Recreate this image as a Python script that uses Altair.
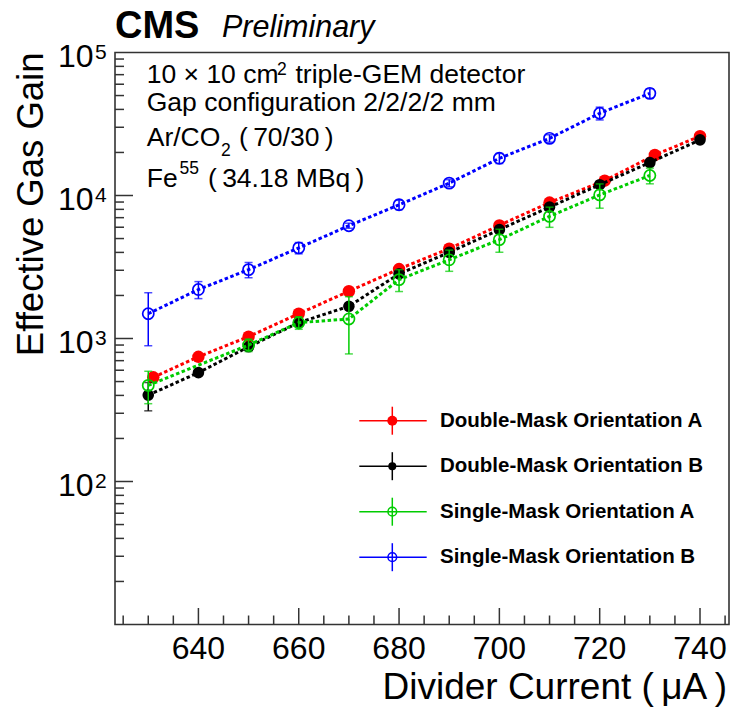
import altair as alt
import pandas as pd

FONT = "Liberation Sans"

# ---- gain measurements vs. divider current (uA) ----
dm_a_current = [631, 640, 650, 660, 670, 680, 690, 700, 710, 721, 731, 740]
dm_a_gain = [535, 745, 1030, 1490, 2140, 3060, 4250, 6180, 8930, 12700, 19200, 26000]
dm_a_err = [25, 30, 40, 55, 75, 100, 140, 200, 280, 400, 600, 800]

dm_b_current = [630, 640, 650, 660, 670, 680, 690, 700, 710, 720, 730, 740]
dm_b_gain = [402, 577, 875, 1290, 1680, 2830, 4000, 5770, 8300, 11900, 17000, 24500]
dm_b_err = [90, 25, 35, 50, 70, 100, 140, 200, 280, 400, 600, 800]

sm_a_current = [630, 650, 660, 670, 680, 690, 700, 710, 720, 730]
sm_a_gain = [470, 900, 1290, 1370, 2580, 3550, 4910, 7140, 10100, 13800]
sm_a_err = [120, 90, 130, 590, 450, 600, 900, 1150, 1950, 1730]

sm_b_current = [630, 640, 650, 660, 670, 680, 690, 700, 710, 720, 730]
sm_b_gain = [1490, 2200, 3030, 4300, 6150, 8610, 12200, 18200, 25100, 37600, 51800]
sm_b_err = [600, 300, 370, 390, 250, 640, 700, 1470, 1500, 3850, 4000]

series_names = [
    "Double-Mask Orientation A",
    "Double-Mask Orientation B",
    "Single-Mask Orientation A",
    "Single-Mask Orientation B",
]
series_colors = ["#ff0000", "#000000", "#00cc00", "#0000ff"]
series_filled = [True, True, False, False]
series_sizes = [155, 135, 125, 125]
legend_sizes = [100, 65, 75, 75]

# axis ticks and labels
x_major = [640, 660, 680, 700, 720, 740]
x_minor = [v for v in range(625, 750, 5) if v not in x_major]
y_label_values = [100, 1000, 10000, 100000]
y_label_exps = ["2", "3", "4", "5"]
y_major = [100, 1000, 10000]
y_minor = [k * 10 ** d for d in range(1, 5) for k in range(2, 10)]

W, H = 614, 572
x_scale = alt.Scale(domain=[623.37, 745.78], nice=False, zero=False)
y_scale = alt.Scale(type="log", domain=[10, 100000], nice=False)
AXIS_COLOR = "#333333"

one_row = pd.DataFrame({"_": [0]})


def text_at(text, x, y, size, weight="normal", style="normal", align="left",
            baseline="alphabetic", angle=0):
    return alt.Chart(one_row).mark_text(
        text=text, font=FONT, fontSize=size, fontWeight=weight, fontStyle=style,
        align=align, baseline=baseline, angle=angle, color="black",
    ).encode(x=alt.value(x), y=alt.value(y))


def series_layers(current, gain, err, color, filled, size):
    df = pd.DataFrame({
        "current": current,
        "gain": gain,
        "lo": [g - e for g, e in zip(gain, err)],
        "hi": [g + e for g, e in zip(gain, err)],
    })
    X = alt.X("current:Q", scale=x_scale, axis=None)
    base = alt.Chart(df)
    line = base.mark_line(color=color, strokeDash=[3.5, 2.5], strokeWidth=3).encode(
        x=X, y=alt.Y("gain:Q", scale=y_scale, axis=None))
    bars = base.mark_rule(color=color, strokeWidth=1.5).encode(
        x=X, y=alt.Y("lo:Q", scale=y_scale, axis=None), y2="hi:Q")
    cap_lo = base.mark_tick(color=color, orient="horizontal", size=8, thickness=1.5).encode(
        x=X, y=alt.Y("lo:Q", scale=y_scale, axis=None))
    cap_hi = base.mark_tick(color=color, orient="horizontal", size=8, thickness=1.5).encode(
        x=X, y=alt.Y("hi:Q", scale=y_scale, axis=None))
    pts = base.mark_point(shape="circle", filled=filled, color=color, size=size,
                          strokeWidth=1.7, opacity=1).encode(
        x=X, y=alt.Y("gain:Q", scale=y_scale, axis=None))
    return [line, bars, cap_lo, cap_hi, pts]


layers = []

# inward tick marks on the frame
layers.append(alt.Chart(pd.DataFrame({"v": y_major})).mark_rule(color=AXIS_COLOR, strokeWidth=1.5).encode(
    y=alt.Y("v:Q", scale=y_scale, axis=None), x=alt.value(0), x2=alt.value(18)))
layers.append(alt.Chart(pd.DataFrame({"v": y_minor})).mark_rule(color=AXIS_COLOR, strokeWidth=1.5).encode(
    y=alt.Y("v:Q", scale=y_scale, axis=None), x=alt.value(0), x2=alt.value(9)))
layers.append(alt.Chart(pd.DataFrame({"v": x_major})).mark_rule(color=AXIS_COLOR, strokeWidth=1.5).encode(
    x=alt.X("v:Q", scale=x_scale, axis=None), y=alt.value(H), y2=alt.value(H - 16.5)))
layers.append(alt.Chart(pd.DataFrame({"v": x_minor})).mark_rule(color=AXIS_COLOR, strokeWidth=1.5).encode(
    x=alt.X("v:Q", scale=x_scale, axis=None), y=alt.value(H), y2=alt.value(H - 9)))

# tick labels
layers.append(alt.Chart(pd.DataFrame({"v": x_major, "lab": [str(v) for v in x_major]})).mark_text(
    font=FONT, fontSize=32, align="center", baseline="alphabetic", color="black").encode(
    x=alt.X("v:Q", scale=x_scale, axis=None), y=alt.value(H + 34.5), text="lab:N"))
ylab = pd.DataFrame({"v": y_label_values, "base": ["10"] * len(y_label_values), "exp": y_label_exps})
layers.append(alt.Chart(ylab).mark_text(
    font=FONT, fontSize=32, align="right", baseline="alphabetic", color="black", dy=14.5).encode(
    y=alt.Y("v:Q", scale=y_scale, axis=None), x=alt.value(-21.5), text="base:N"))
layers.append(alt.Chart(ylab).mark_text(
    font=FONT, fontSize=21, align="left", baseline="alphabetic", color="black", dy=6).encode(
    y=alt.Y("v:Q", scale=y_scale, axis=None), x=alt.value(-20), text="exp:N"))

# data series
series_data = [
    (dm_a_current, dm_a_gain, dm_a_err),
    (dm_b_current, dm_b_gain, dm_b_err),
    (sm_a_current, sm_a_gain, sm_a_err),
    (sm_b_current, sm_b_gain, sm_b_err),
]
for (cur, g, e), col, fil, sz in zip(series_data, series_colors, series_filled, series_sizes):
    layers += series_layers(cur, g, e, col, fil, sz)

# legend
legend_y0, legend_step = 368.2, 45.5
for i, (name, col, fil, sz) in enumerate(zip(series_names, series_colors, series_filled, legend_sizes)):
    yy = legend_y0 + i * legend_step
    layers.append(alt.Chart(one_row).mark_rule(color=col, strokeWidth=1.5).encode(
        x=alt.value(244.3), x2=alt.value(311.7), y=alt.value(yy)))
    layers.append(alt.Chart(one_row).mark_rule(color=col, strokeWidth=1.5).encode(
        x=alt.value(277.3), y=alt.value(yy - 14), y2=alt.value(yy + 14)))
    layers.append(alt.Chart(one_row).mark_point(shape="circle", filled=fil, color=col, size=sz,
                                                strokeWidth=1.5, opacity=1).encode(
        x=alt.value(277.3), y=alt.value(yy)))
    layers.append(text_at(name, 325, yy, 20.5, weight="bold", baseline="middle"))

# header and descriptive text
layers.append(text_at("CMS", 0, -14.5, 38, weight="bold"))
layers.append(text_at("Preliminary", 107, -15.5, 30.5, style="italic"))
layers.append(text_at("10 \u00d7 10 cm", 31.7, 30.8, 26.5))
layers.append(text_at("2", 162, 22, 17.5))
layers.append(text_at("triple-GEM detector", 180.5, 30.8, 26.5))
layers.append(text_at("Gap configuration 2/2/2/2 mm", 31.7, 58.5, 26.5))
layers.append(text_at("Ar/CO", 31.7, 93.5, 26.5))
layers.append(text_at("2", 106, 103, 17.5))
layers.append(text_at("(\u200970/30\u2009)", 124, 93.5, 26.5))
layers.append(text_at("Fe", 31.7, 134.2, 26.5))
layers.append(text_at("55", 64.5, 121, 17.5))
layers.append(text_at("(\u200934.18 MBq\u2009)", 93, 134.2, 26.5))

# axis titles
layers.append(text_at("Divider Current (\u2009\u03bcA\u2009)", W - 2, H + 74.5, 37, align="right"))
layers.append(text_at("Effective Gas Gain", -72, 0, 36.5, align="right", angle=270))

chart = alt.layer(*layers).properties(
    width=W,
    height=H,
    padding={"left": 115, "top": 52.5, "right": 1, "bottom": 92.5},
    autosize=alt.AutoSizeParams(type="none"),
).configure_view(stroke=AXIS_COLOR, strokeWidth=1.6)

chart.save("out.html", embed_options={"renderer": "svg", "actions": False})
